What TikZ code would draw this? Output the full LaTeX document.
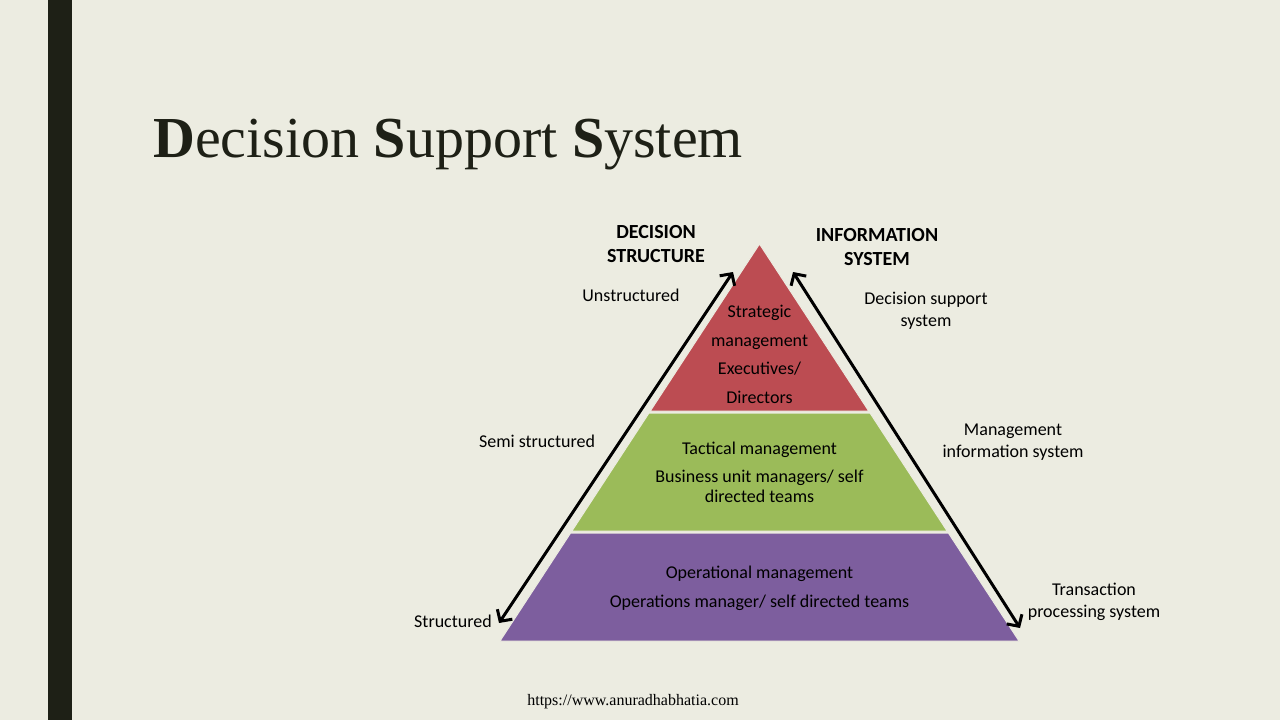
\documentclass[tikz,border=0pt]{standalone}
\usepackage{fontspec}
\setmainfont{Liberation Serif}
\newfontfamily\calibfont{Carlito}
\usetikzlibrary{arrows.meta}
\definecolor{slidebg}{RGB}{236,236,225}
\definecolor{slidebar}{RGB}{30,32,22}
\definecolor{topred}{RGB}{188,76,82}
\definecolor{midgreen}{RGB}{155,187,89}
\definecolor{lowpurple}{RGB}{125,94,158}

\begin{document}
\begin{tikzpicture}[x=1pt, y=-1pt,
	txt/.style={font=\calibfont\fontsize{18}{22}\selectfont, align=center, anchor=base, inner sep=0pt},
	head/.style={font=\calibfont\bfseries\fontsize{20}{24}\selectfont, align=center, anchor=base, inner sep=0pt},
	dir/.style={black, line width=3pt, {Straight Barb[length=8.5pt,width=18pt]}-{Straight Barb[length=8.5pt,width=18pt]}}]
	\fill[slidebg] (0,0) rectangle (1280,720);
	\fill[slidebar] (48,0) rectangle (72,720);
	\node[anchor=base west, inner sep=0pt, font=\fontsize{58}{58}\selectfont, text=slidebar] (title) at (153,157) {\textbf{D}ecision \textbf{S}upport \textbf{S}ystem};
	% pyramid layers
	\filldraw[draw=slidebg, fill=topred, line width=1pt] (759.5,244) -- (650.3,411) -- (868.7,411) -- cycle;
	\filldraw[draw=slidebg, fill=midgreen, line width=1pt] (649.0,413) -- (870.0,413) -- (947.1,531) -- (571.9,531) -- cycle;
	\filldraw[draw=slidebg, fill=lowpurple, line width=1pt] (570.6,533) -- (948.4,533) -- (1019,641) -- (500,641) -- cycle;
	\node[txt, font=\calibfont\fontsize{18}{28.5}\selectfont] (strat) at (759.5,403) {Strategic\\management\\Executives/\\Directors};
	\node[txt, font=\calibfont\fontsize{18}{20}\selectfont] (tact) at (759.5,502) {Tactical management\\[8pt]Business unit managers/ self\\directed teams};
	\node[txt] (oper) at (759.5,607) {Operational management\\[7pt]Operations manager/ self directed teams};
	% side labels
	\node[head] (decstr) at (656,262) {DECISION\\STRUCTURE};
	\node[head] (infsys) at (877,265) {INFORMATION\\SYSTEM};
	\node[txt] (unstr) at (631,301) {Unstructured};
	\node[txt] (semi) at (537,447) {Semi structured};
	\node[txt] (struc) at (453,627) {Structured};
	\node[txt] (dss) at (926,326) {Decision support\\system};
	\node[txt] (mis) at (1013,457) {Management\\information system};
	\node[txt] (tps) at (1094,617) {Transaction\\processing system};
	\coordinate (decbot) at (499,623);
	\coordinate (dectop) at (733,272);
	\coordinate (inftop) at (793,272);
	\coordinate (infbot) at (1020,628);
	\draw[dir] (decbot) -- (dectop);
	\draw[dir] (inftop) -- (infbot);
	\node[anchor=base, inner sep=0pt, font=\fontsize{16}{16}\selectfont] (url) at (633,705) {https://www.anuradhabhatia.com};
\end{tikzpicture}
\end{document}
